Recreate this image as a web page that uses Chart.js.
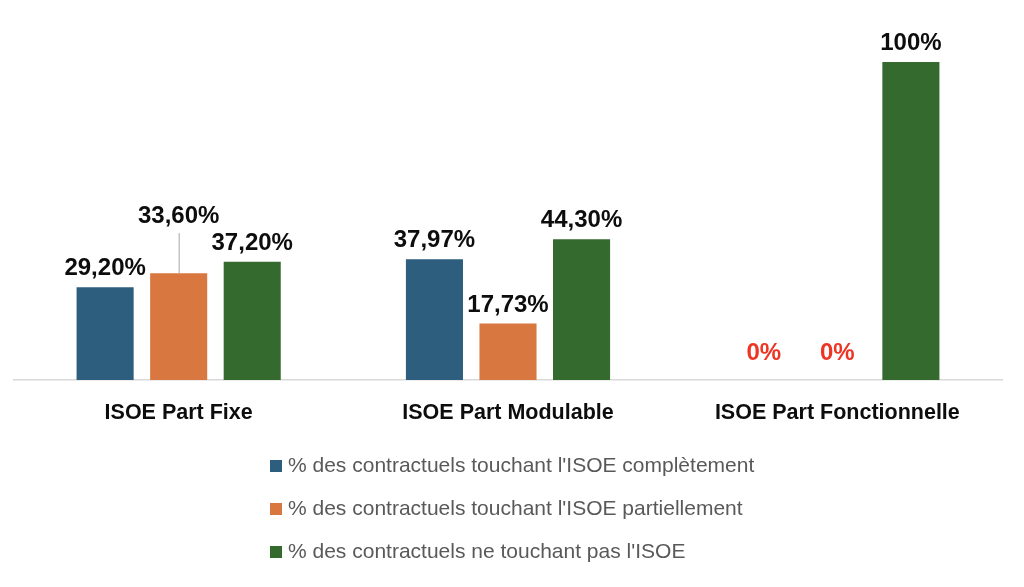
<!DOCTYPE html>
<html>
<head>
<meta charset="utf-8">
<script src="https://cdn.jsdelivr.net/npm/chart.js@4.4.0/dist/chart.umd.min.js"></script>
<style>
  html, body { margin: 0; padding: 0; background: #ffffff; }
  #wrap { width: 1024px; height: 587px; position: relative; }
</style>
</head>
<body>
<div id="wrap"><canvas id="c" width="1024" height="587"></canvas></div>
<script>
const categories = ["ISOE Part Fixe", "ISOE Part Modulable", "ISOE Part Fonctionnelle"];
const seriesNames = [
  "% des contractuels touchant l'ISOE complètement",
  "% des contractuels touchant l'ISOE partiellement",
  "% des contractuels ne touchant pas l'ISOE"
];
const completValues = [29.20, 37.97, 0];
const partielValues = [33.60, 17.73, 0];
const aucunValues = [37.20, 44.30, 100];
const completLabels = ["29,20%", "37,97%", "0%"];
const partielLabels = ["33,60%", "17,73%", "0%"];
const aucunLabels = ["37,20%", "44,30%", "100%"];

const colors = ["#2d5e7e", "#d8773f", "#346a2e"];
const labelSets = [completLabels, partielLabels, aucunLabels];

const valueLabelPlugin = {
  id: 'valueLabels',
  afterDatasetsDraw(chart) {
    const ctx = chart.ctx;
    ctx.save();
    ctx.font = "bold 24px 'Liberation Sans', Arial, sans-serif";
    ctx.textAlign = 'center';
    ctx.textBaseline = 'alphabetic';
    chart.data.datasets.forEach((ds, di) => {
      const meta = chart.getDatasetMeta(di);
      meta.data.forEach((bar, i) => {
        const v = ds.data[i];
        const txt = labelSets[di][i];
        let y = bar.y - 12;
        if (v === 0) {
          ctx.fillStyle = '#ee3524';
          y = bar.y - 20;
        } else {
          ctx.fillStyle = '#0d0d0d';
        }
        if (di === 1 && i === 0) {
          const ly = bar.y - 50;
          ctx.strokeStyle = '#a6a6a6';
          ctx.lineWidth = 1;
          ctx.beginPath();
          ctx.moveTo(bar.x + 0.5, bar.y);
          ctx.lineTo(bar.x + 0.5, ly + 10);
          ctx.stroke();
          y = ly;
        }
        ctx.fillText(txt, bar.x, y);
      });
    });
    ctx.restore();
  }
};

const legendPlugin = {
  id: 'customLegend',
  afterDraw(chart) {
    const ctx = chart.ctx;
    ctx.save();
    ctx.font = "21px 'Liberation Sans', Arial, sans-serif";
    ctx.textBaseline = 'middle';
    ctx.textAlign = 'left';
    const rows = [466, 509, 552];
    seriesNames.forEach((name, i) => {
      ctx.fillStyle = colors[i];
      ctx.fillRect(270, rows[i] - 6, 12, 12);
      ctx.fillStyle = '#595959';
      ctx.fillText(name, 288, rows[i]);
    });
    ctx.restore();
  }
};

new Chart(document.getElementById('c'), {
  type: 'bar',
  data: {
    labels: categories,
    datasets: [
      { label: seriesNames[0], data: completValues, backgroundColor: colors[0] },
      { label: seriesNames[1], data: partielValues, backgroundColor: colors[1] },
      { label: seriesNames[2], data: aucunValues, backgroundColor: colors[2] }
    ]
  },
  options: {
    responsive: false,
    animation: false,
    devicePixelRatio: 1,
    categoryPercentage: 0.67,
    barPercentage: 0.776,
    layout: { padding: { left: 14, right: 22, top: 62, bottom: 167 } },
    plugins: { legend: { display: false }, tooltip: { enabled: false } },
    scales: {
      x: {
        grid: { display: false, drawTicks: false },
        border: { display: true, color: '#d9d9d9', width: 1.5 },
        ticks: {
          color: '#0d0d0d',
          padding: 20,
          font: { family: "'Liberation Sans', Arial, sans-serif", size: 21.5, weight: 'bold' }
        },
        afterFit(scale) { scale.height = 40; }
      },
      y: {
        display: false,
        min: 0,
        max: 100
      }
    }
  },
  plugins: [valueLabelPlugin, legendPlugin]
});
</script>
</body>
</html>
